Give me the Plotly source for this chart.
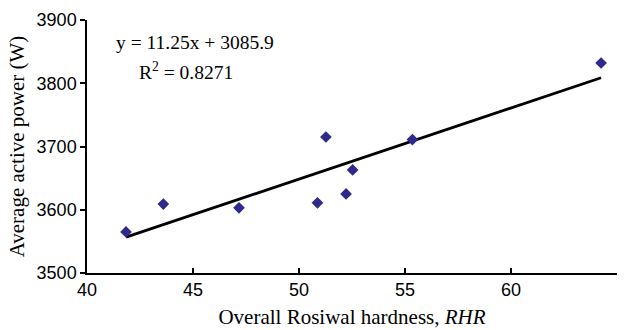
import plotly.graph_objects as go

rhr = [41.84, 43.6, 47.17, 50.87, 51.27, 52.22, 52.53, 55.35, 64.25]
power = [3565, 3609, 3603, 3611, 3715, 3625, 3663, 3711, 3832]
slope = 11.25
intercept = 3085.9
eq_text = "y = 11.25x + 3085.9"
r2_text = "R<sup>2</sup> = 0.8271"

x_fit = [min(rhr), max(rhr)]
y_fit = [slope * v + intercept for v in x_fit]

fig = go.Figure()
fig.add_trace(go.Scatter(x=x_fit, y=y_fit, mode="lines",
                         line=dict(color="black", width=2.8), showlegend=False))
fig.add_trace(go.Scatter(x=rhr, y=power, mode="markers",
                         marker=dict(symbol="diamond", size=9, color="#2E2A8C"),
                         showlegend=False))

fig.add_annotation(x=0.05, y=0.913, xref="paper", yref="paper", text=eq_text,
                   showarrow=False, xanchor="left", yanchor="middle",
                   font=dict(family="Liberation Serif", size=19.5, color="black"))
fig.add_annotation(x=0.095, y=0.80, xref="paper", yref="paper", text=r2_text,
                   showarrow=False, xanchor="left", yanchor="middle",
                   font=dict(family="Liberation Serif", size=19.5, color="black"))

fig.update_layout(
    width=627, height=330,
    margin=dict(l=87, r=10, t=20, b=57),
    plot_bgcolor="white", paper_bgcolor="white",
    xaxis=dict(range=[40, 65], tickvals=[40, 45, 50, 55, 60, 65],
               showline=True, linecolor="black", linewidth=1.5,
               ticks="inside", ticklen=5, tickcolor="black", tickwidth=1.5,
               showgrid=False, zeroline=False, automargin=False,
               tickfont=dict(family="Liberation Sans", size=18, color="black"),
               title=dict(text="Overall Rosiwal hardness, <i>RHR</i>", standoff=10,
                          font=dict(family="Liberation Serif", size=21, color="black"))),
    yaxis=dict(range=[3500, 3900], tickvals=[3500, 3600, 3700, 3800, 3900],
               showline=True, linecolor="black", linewidth=1.5,
               ticks="outside", ticklen=5, tickcolor="black", tickwidth=1.5,
               showgrid=False, zeroline=False, automargin=False,
               tickfont=dict(family="Liberation Sans", size=18, color="black"),
               title=dict(text="Average active power (W)", standoff=6,
                          font=dict(family="Liberation Serif", size=21, color="black"))),
)

fig.write_html("out.html")
